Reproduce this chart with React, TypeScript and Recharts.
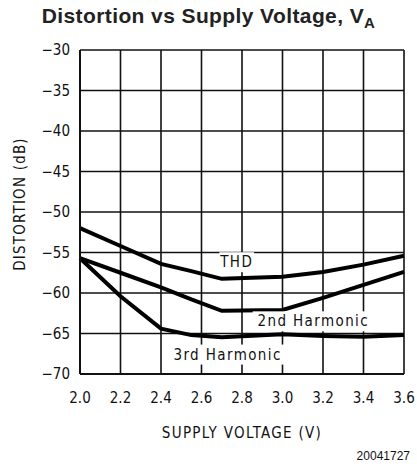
import React from "react";
import { LineChart, Line, XAxis, YAxis, CartesianGrid, ReferenceDot } from "recharts";

const voltages = [2.0, 2.2, 2.4, 2.55, 2.7, 3.0, 3.2, 3.4, 3.6];
const thd = [-52.0, -54.2, -56.4, -57.3, -58.25, -58.0, -57.4, -56.5, -55.4];
const second = [-55.7, -57.5, -59.3, -60.8, -62.2, -62.1, -60.6, -59.0, -57.4];
const third = [-55.7, -60.4, -64.4, -65.2, -65.45, -65.1, -65.3, -65.4, -65.2];

const xTicks = [2.0, 2.2, 2.4, 2.6, 2.8, 3.0, 3.2, 3.4, 3.6];
const yTicks = [-30, -35, -40, -45, -50, -55, -60, -65, -70];

const seriesLabels = [
  { text: "THD", x: 2.774, y: -56.2 },
  { text: "2nd Harmonic", x: 3.152, y: -63.5 },
  { text: "3rd Harmonic", x: 2.729, y: -67.6 },
];

const data = voltages.map((v, i) => ({ v, thd: thd[i], second: second[i], third: third[i] }));

const FONT = "'DejaVu Sans Condensed', 'DejaVu Sans', sans-serif";

const LabelShape = (text: string) => (props: any) => {
  const { cx, cy } = props;
  const w = text.length * 9.6 + 6;
  return (
    <g>
      <rect x={cx - w / 2} y={cy - 10} width={w} height={20} fill="#fff" />
      <text x={cx} y={cy} textAnchor="middle" dominantBaseline="central" fontFamily={FONT} fontSize={15} letterSpacing={1.4} fill="#111">
        {text}
      </text>
    </g>
  );
};

const YLabel = (props: any) => {
  const { viewBox } = props;
  const x = 20;
  const y = viewBox.y + viewBox.height / 2 - 8;
  return (
    <text x={x} y={y} transform={`rotate(-90 ${x} ${y})`} textAnchor="middle" dominantBaseline="central" fontFamily={FONT} fontSize={15} letterSpacing={1.2} fill="#111">
      DISTORTION (dB)
    </text>
  );
};

export default function App() {
  return (
    <div style={{ position: "absolute", left: 0, top: 0, width: 417, height: 469, background: "#fff" }}>
      <div style={{ position: "absolute", left: 0, top: 4, width: 417, textAlign: "center", fontFamily: "'Liberation Sans', Arial, sans-serif", fontWeight: "bold", fontSize: 21, letterSpacing: 0.4, color: "#222", lineHeight: "24px" }}>
        Distortion vs Supply Voltage, V<sub style={{ fontSize: 15, lineHeight: 0 }}>A</sub>
      </div>
      <LineChart width={417} height={469} data={data} margin={{ top: 50, right: 13, left: 0, bottom: 0 }}>
        <CartesianGrid stroke="#111" strokeWidth={1.6} horizontalValues={yTicks} verticalValues={xTicks} />
        <XAxis
          dataKey="v"
          type="number"
          domain={[2.0, 3.6]}
          ticks={xTicks}
          tickFormatter={(t: number) => t.toFixed(1)}
          height={95}
          tickLine={false}
          tickSize={0}
          tickMargin={18}
          axisLine={{ stroke: "#111", strokeWidth: 2 }}
          tick={{ fill: "#111", fontFamily: FONT, fontSize: 15 }}
          interval={0}
          label={{ value: "SUPPLY VOLTAGE (V)", position: "insideTop", offset: 53, fill: "#111", fontFamily: FONT, fontSize: 15, letterSpacing: 1.3 }}
        />
        <YAxis
          type="number"
          domain={[-70, -30]}
          ticks={yTicks}
          width={80}
          tickLine={false}
          tickSize={0}
          tickMargin={10}
          axisLine={{ stroke: "#111", strokeWidth: 2 }}
          tick={{ fill: "#111", fontFamily: FONT, fontSize: 15 }}
          interval={0}
          tickFormatter={(t: number) => String(t).replace("-", "\u2212")}
          label={<YLabel />}
        />
        <Line dataKey="thd" stroke="#000" strokeWidth={4} dot={false} isAnimationActive={false} type="linear" />
        <Line dataKey="second" stroke="#000" strokeWidth={4} dot={false} isAnimationActive={false} type="linear" />
        <Line dataKey="third" stroke="#000" strokeWidth={4} dot={false} isAnimationActive={false} type="linear" />
        {seriesLabels.map((l) => (
          <ReferenceDot key={l.text} x={l.x} y={l.y} r={0} shape={LabelShape(l.text)} ifOverflow="visible" />
        ))}
      </LineChart>
      <div style={{ position: "absolute", right: 7, top: 449, fontFamily: "'Liberation Sans', Arial, sans-serif", fontSize: 12, color: "#111" }}>
        20041727
      </div>
    </div>
  );
}
